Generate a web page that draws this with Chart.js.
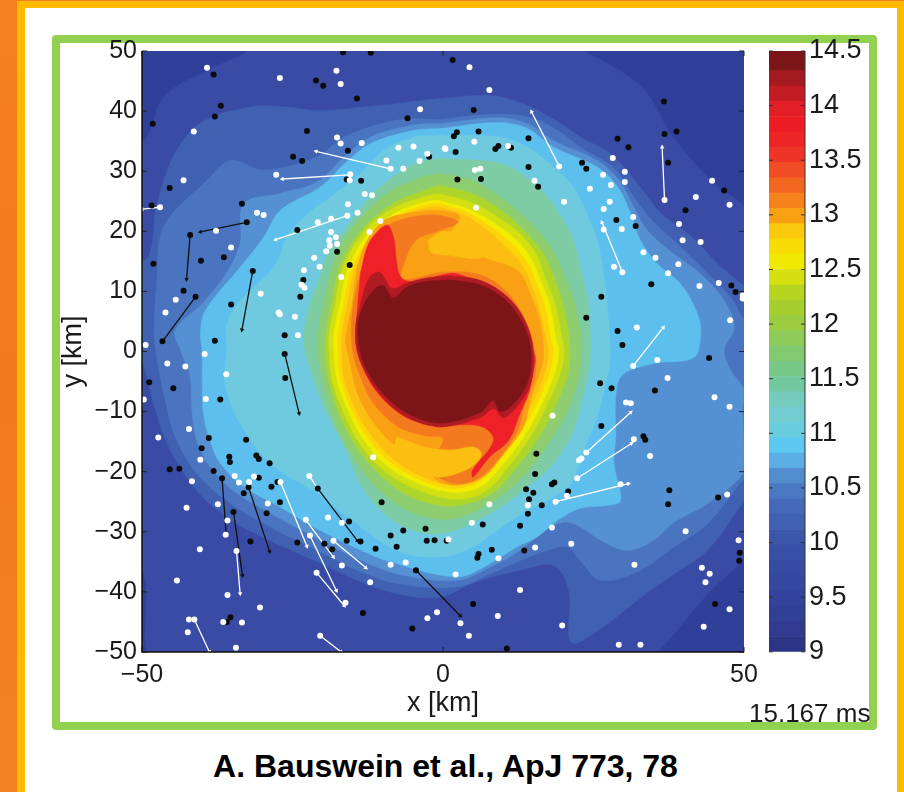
<!DOCTYPE html>
<html>
<head>
<meta charset="utf-8">
<title>Bauswein et al.</title>
<script src="https://cdn.jsdelivr.net/npm/chart.js@4"></script>
<style>
  html, body { margin: 0; padding: 0; }
  body { width: 904px; height: 792px; overflow: hidden; position: relative; background: linear-gradient(#f4801f 1px, #ffb900 1px); font-family: "Liberation Sans", Arial, sans-serif; }
  #stripe { position: absolute; left: 0; top: 0; width: 17px; height: 792px; background: linear-gradient(180deg, #f4801f, #f47a20 50%, #f08224); }
  #sheet { position: absolute; left: 25px; top: 8px; width: 872px; height: 784px; background: #fff; }
  #frame { position: absolute; left: 52px; top: 35px; width: 809px; height: 679px; border: 8px solid #92d050; border-radius: 4px; }
  #mapWrap { position: absolute; left: 57px; top: 33px; width: 705px; height: 687px; }
  #barWrap { position: absolute; left: 760px; top: 34px; width: 108px; height: 630px; }
  #stamp { position: absolute; left: 749px; top: 698px; font-size: 26px; color: #1a1a1a; white-space: nowrap; }
  #caption { position: absolute; left: 0; width: 891px; top: 748px; text-align: center; font-size: 32px; font-weight: bold; color: #000; }
</style>
</head>
<body>
<div id="stripe"></div>
<div id="sheet"></div>
<div id="frame"></div>
<div id="mapWrap"><canvas id="mapChart" width="705" height="687"></canvas></div>
<div id="barWrap"><canvas id="barChart" width="108" height="630"></canvas></div>
<div id="stamp">15.167 ms</div>
<div id="caption">A. Bauswein et al., ApJ 773, 78</div>

<script>
// axis ticks
const xTicks = [-50, 0, 50];
const yTicks = [-50, -40, -30, -20, -10, 0, 10, 20, 30, 40, 50];
const barTicks = [9, 9.5, 10, 10.5, 11, 11.5, 12, 12.5, 13, 13.5, 14, 14.5];

// contours, [x km, y km], outermost first
const levelColors = ['#394ba4', '#4060b2', '#4a74c0', '#5590d2', '#5cbfee', '#6fcae0', '#7dcca4', '#8fce70', '#aed52c', '#d2df10', '#f2ec00', '#fcd40a', '#fcbe10', '#f9a014', '#f47a20'];

const c_L1 = [[-52,33],[-49,36],[-46.4,42.4],[-39.2,46.8],[-33,49.6],[-30,52],[18,52],[23.4,50],[33,44],[38,36],[45,28],[50.2,24],[52,20],[52,-30],[50.2,-34.2],[44,-40.3],[38.4,-47],[35.6,-50.3],[35,-52],[-47,-52],[-49.5,-38],[-52,-28]];
const c_L2 = [[-0.5,42.1],[7.8,42.6],[13.4,41.2],[17.8,39],[22.8,35.7],[27.8,32.9],[32.3,27.9],[36.2,23],[41.2,19.2],[45.6,14.6],[50.2,10.7],[53,8],[53,-22],[50.2,-24.8],[44,-33],[38.4,-37],[32.8,-41],[27.3,-45.3],[22,-48.6],[20.9,-47.5],[20.9,-39.8],[18.4,-35.6],[12.8,-36.4],[5,-38.5],[-0.5,-40.9],[-7.6,-40.3],[-14.2,-38.1],[-20.9,-35],[-28.7,-31.5],[-35.3,-28],[-41,-23],[-45.5,-16],[-48,-9],[-50,-2],[-53,0],[-53,14],[-49,15.7],[-47.6,24],[-44.8,32.4],[-40.3,38],[-32,40.7],[-25.9,40.7],[-20.9,40.1],[-13.1,40.7]];
const c_L3 = [[-0.5,38.6],[9,39.5],[15,38.8],[19,36.8],[22.8,34],[28.4,30.5],[31.7,25.7],[35,21.5],[39.5,17.4],[43.9,13],[47.8,9],[50.2,5.2],[53,4],[53,-19],[50.2,-21],[44,-28.6],[38.4,-32.5],[32.8,-36.4],[26.2,-38.1],[22.8,-34.8],[20.6,-32.5],[17.3,-33.1],[12.8,-34.8],[7.8,-37],[2.3,-39.2],[-7.6,-38.6],[-14.2,-36.4],[-20.9,-33.1],[-28.7,-29.2],[-35.3,-25.3],[-40.9,-20.3],[-44.5,-14.2],[-45.9,-9.2],[-47.3,-2.5],[-48,3],[-47.5,12],[-46.4,20.8],[-39.2,28.5],[-35.3,31.8],[-29.8,30.2],[-20.9,32.4],[-16.4,35.7],[-7.6,38.5]];
const c_L3b = [[-0.5,37.9],[9,38.9],[14,37.9],[18.7,34.9],[25.6,31.8],[29.2,28.5],[31.7,24],[34,20.1],[38.4,16.2],[42.8,12.9],[46.7,8.5],[48.4,4],[46.7,0.25],[47.8,-3.1],[50,-6.4],[49.8,-9.8],[50,-16.4],[49.8,-20.3],[44,-25.3],[38.4,-28.4],[35,-31.4],[30.6,-33.1],[26.2,-31.4],[22.8,-29.2],[20,-28.4],[16.2,-30.3],[12.8,-33.1],[7.8,-35.9],[2.3,-38.1],[-7.6,-37],[-14.2,-34.5],[-20.9,-31.1],[-27.6,-27.5],[-34.2,-23.6],[-38.7,-19.2],[-40.9,-14.8],[-41.7,-9.8],[-42,-4.2],[-43.5,0],[-44.5,3.5],[-40,8],[-36,13],[-33.7,18],[-33.1,24.6],[-27,26.3],[-20.9,28.2],[-16.4,32.4],[-12,35.7],[-4.8,37.7]];
const c_L4 = [[-0.5,37.1],[9,38.1],[14,37.1],[18.4,34],[25.6,30.7],[29,27.4],[31.2,22.9],[32.8,18.5],[35.6,14.6],[39.5,11.2],[42.3,6.2],[42.8,2.9],[41.7,-1],[35,-2],[29.8,-3.9],[28.7,-7.5],[28.7,-14.2],[28.4,-18.6],[29.5,-24.8],[27.3,-25.6],[22.8,-26.1],[19,-28.1],[15.6,-30.9],[12.3,-32.5],[7.8,-35.3],[2.3,-37.5],[-8.7,-35],[-14.2,-32.8],[-20.9,-29.5],[-27,-25.9],[-33.1,-22.5],[-37,-18.6],[-38.7,-14.8],[-39.8,-10.3],[-40,-4.8],[-40,0.2],[-40.3,2.9],[-39.5,6.8],[-33.7,14],[-29.8,19],[-27,23.5],[-20.3,27.4],[-16.4,31.2],[-12,34.6],[-4.8,36.8]];
const c_L5 = [[-0.5,36],[9.5,35.7],[14,34],[17.8,31.2],[21.2,27.9],[23.4,24],[25.6,18.5],[26.7,12.9],[27.3,7.4],[27.8,-1],[27,-5.3],[25.6,-10.9],[23.4,-16.4],[21.2,-22],[18.4,-24.2],[15,-25.9],[10.6,-28.6],[5,-32.5],[-0.5,-34.2],[-7.6,-33.1],[-15.9,-27.5],[-20.9,-23.6],[-28.7,-18.6],[-33.7,-12],[-36.2,-5.3],[-35.9,0.2],[-35.9,4.6],[-33.7,8.5],[-28.1,14],[-25.9,19],[-23.1,22.4],[-18.7,25.7],[-13.7,29.6],[-9.8,33.5],[-4.8,35.7]];
const c_L6 = [[-0.5,32.1],[9.5,31.3],[14.5,28.5],[17.8,25.1],[21.2,19.6],[22.8,14],[24.2,7.4],[24.5,-1],[24,-4.2],[22.8,-9.2],[21.2,-14.2],[17.8,-19.2],[14,-22.5],[7.8,-27],[-0.5,-30.3],[-7.6,-28.6],[-13.1,-23.1],[-16.4,-15.9],[-19.8,-9.2],[-22,-3.1],[-23.1,1.8],[-22.3,7.4],[-20.3,12.9],[-19.2,16.3],[-16.4,20.1],[-13.1,24.6],[-9.8,27.9],[-4.8,31.2]];
const c_L7 = [[-0.5,29.6],[4.5,28.6],[9,26],[13,22.8],[17.5,18],[20,13],[22,7.4],[23,1.5],[22.6,-4],[20.8,-9.5],[18,-14.5],[14,-20],[9,-24.5],[3,-27.5],[-1.5,-27.8],[-7,-25.8],[-11.8,-21.8],[-15.5,-16.5],[-18,-11.5],[-20,-5],[-20.8,0.3],[-20.6,4],[-19.6,9],[-18.4,14],[-16.2,19],[-13,23],[-9,26.5],[-4,28.8]];
const c_L8 = [[-0.5,27.6],[4.4,26.4],[9,24],[13,20.6],[16.5,16.5],[18.5,12.2],[20,7.4],[21,1.8],[20.8,-3.4],[18.4,-9.6],[15.6,-14.8],[12,-19.5],[8,-23.7],[2,-25.7],[-2,-25.3],[-6.3,-23.7],[-11,-20],[-14.4,-15.8],[-16.8,-11.5],[-18.9,-5],[-19.6,0.25],[-19.4,3],[-18.4,8.5],[-17.3,13.5],[-15,18.2],[-12,21.8],[-8,24.8],[-2.5,27]];
const c_L9 = [[-0.5,26.2],[4.2,25],[8.4,22.8],[12.3,20],[15.3,16.5],[17,12.2],[18.7,7.6],[19.8,2],[20.1,0.2],[19.6,-3.3],[17,-9.5],[14.2,-14.7],[11,-19],[6.8,-23.4],[1.2,-24.5],[-5.6,-22.4],[-10.3,-19.4],[-13.8,-15.4],[-16,-11.3],[-18.4,-5],[-18.9,0.25],[-18.9,3],[-17.8,8.5],[-16.7,13.7],[-14.4,18.2],[-11.4,21.7],[-7.3,24.3],[-2.2,26]];
const c_L10 = [[-0.5,25.1],[4,23.8],[7.8,21.8],[11.7,19],[14.5,15.7],[16.2,11.8],[17.8,7.4],[18.8,1.8],[19.2,0.25],[18.7,-3.1],[16.2,-9.2],[13.4,-14.2],[10.1,-18.6],[6.2,-22.5],[1.2,-23.4],[-5.3,-21.4],[-9.8,-18.6],[-13.1,-14.8],[-15.3,-10.9],[-17.6,-4.8],[-18.1,0.25],[-18.1,3],[-17,8.5],[-15.9,13.5],[-13.7,17.9],[-10.9,21],[-7,23.5],[-2,25.1]];
const c_L11 = [[-0.5,24.6],[3.7,23.3],[7.3,21.2],[11,18.3],[13.8,15.1],[15.5,11.4],[17,7.2],[18,1.8],[18.3,0.25],[17.8,-3.2],[15.4,-9],[12.7,-13.7],[9.5,-18],[5.8,-21.8],[1.2,-22.8],[-5,-20.8],[-9.3,-18],[-12.5,-14.3],[-14.7,-10.6],[-17,-4.8],[-17.4,0.25],[-17.4,2.8],[-16.4,8.3],[-15.3,13.3],[-13.2,17.5],[-10.5,20.5],[-6.7,23],[-2,24.6]];
const c_L12 = [[-0.5,24],[3.3,22.8],[6.8,20.6],[10.2,17.6],[13,14.6],[14.7,11],[16,7],[17.2,1.8],[17.5,0.25],[17,-3.3],[14.7,-8.8],[12,-13.3],[9,-17.4],[5.4,-21.2],[1.2,-22.2],[-4.7,-20.2],[-8.8,-17.4],[-12,-13.8],[-14.2,-10.2],[-16.4,-4.8],[-16.8,0.25],[-16.8,2.6],[-15.8,8.2],[-14.8,13.2],[-12.8,17.2],[-10.1,20.2],[-6.5,22.7],[-2,24]];
const c_L13 = [[-2,23.5],[1.3,23.2],[2.8,22.4],[1.2,19],[6.7,15.7],[12.3,13.5],[14.5,9.6],[16.2,4.6],[16.7,-1],[16.2,-3.1],[14.5,-8],[13.4,-12.5],[10.1,-17],[6.7,-20.9],[2.8,-22.2],[-0.5,-21.7],[-2,-20.3],[-4.2,-17],[-7.6,-15.9],[-11.4,-12],[-14.2,-7],[-15.3,-2.5],[-15.9,0.25],[-16.2,1.9],[-15,8.5],[-14.2,14],[-12.6,18.5],[-9.8,21.8],[-5.9,23]];
const c_L14 = [[-10.5,20.5],[-6,22.2],[-1,22.7],[2.5,21.5],[-1,20],[-4.5,18.5],[-6.5,14.5],[-6.8,12],[0,13.2],[6,12.8],[10.5,10],[13.5,5.5],[15.3,0],[15.2,-4.5],[13.5,-9],[12.5,-13],[9.5,-17.5],[6,-21],[2.5,-22],[-0.5,-21],[-2,-19],[0,-14.5],[-3,-14],[-7.5,-12.5],[-11.5,-8.7],[-13.8,-4],[-15,0],[-15.2,5],[-14.5,10],[-13.5,14],[-12,18]];
const c_goldTop = [[-2.5,18.5],[0,20],[2.5,19.5],[5,17.5],[8,17],[6,15.5],[1,16],[-2,16.5]];
const c_goldLow = [[-7.6,-14.2],[-3.1,-15.9],[1.3,-16.4],[5,-15.9],[6.4,-17],[5,-19],[2.3,-20.3],[-0.5,-20.9],[-2.6,-20.3],[-4.8,-18.6],[-8.1,-16.4]];
const c_L15 = [[-13.7,13],[-12.6,17.4],[-11.2,19.6],[-9.2,21],[-8.1,18.5],[-7.8,15.7],[-7,12.4],[-4.8,11.6],[1.3,13],[3.9,12.4],[7.8,10.7],[11.7,7.4],[13.7,3],[15.3,-1],[15,-3.1],[14.2,-7],[12.8,-10.3],[10.9,-14.8],[7.8,-17.5],[5,-20.9],[4.9,-19.8],[8.4,-14.8],[6.7,-12.6],[2.8,-12.2],[-0.5,-12.6],[-2,-12.2],[-5.9,-11.1],[-9.8,-8.1],[-12.6,-4.2],[-14.2,0.25],[-14.5,1.8],[-14.2,7.4]];
const c_L16 = [[1.2,12.6],[6.3,11.8],[10.7,9.1],[13.6,5.2],[15,0.2],[14.5,-5.5],[12,-9.5],[10,-11],[8.4,-9.5],[6.2,-11],[-0.5,-12.5],[-6.2,-10.8],[-10.3,-7.3],[-13,-3.3],[-14.3,0.2],[-14.5,4.4],[-13.8,7.4],[-12.3,12.2],[-10.5,13.2],[-8.5,10.5],[-6,11.4],[-3,12.2]];
const c_core = [[1.2,11.9],[6.1,11.1],[10.3,8.6],[13.1,4.9],[14.6,0.2],[14,-5.2],[11.5,-8.9],[9.5,-10],[8.3,-8.1],[6.1,-10.2],[-0.5,-11.9],[-6,-10.2],[-10,-6.9],[-12.6,-3.1],[-13.8,0.2],[-14.1,4.4],[-13.3,7.4],[-11.8,9.9],[-10,11],[-8.3,8.9],[-6,10.7],[-3,11.6]];

// particles
const whitePts = [[-39.2,47.2],[-27.1,45.5],[-17.7,46.7],[-17,44.5],[-3.8,40.3],[-41.4,36.6],[-17.6,35.6],[-17,34.6],[-13.5,34.7],[-7.4,33.9],[-4.9,34.1],[0.4,33.7],[-2.6,32.9],[-9.4,31.8],[-3.9,31.7],[-8.7,30.4],[-6.6,30.4],[-43.1,28.5],[-27.7,29.4],[-15.4,29.5],[-15.5,28.5],[-13,26.2],[-11.8,26],[-47,24],[-15.8,24.5],[-14.2,23.1],[-15.9,22.6],[-30.9,23.1],[-29.8,22.7],[-18.6,22.1],[-20.8,21.5],[-10.4,21.7],[-37.7,20.1],[-18.6,19.9],[-12.2,19.9],[-17.8,19],[-18.9,18.5],[-17.6,17.9],[-18.8,17.6],[-19.4,16.7],[-35.2,17.3],[-21.4,15.6],[-20.5,14.1],[-23.1,13.5],[-16.9,12.4],[-23.5,11.1],[-23,10.6],[-44.4,8.6],[-30.3,9.6],[-46.1,6.5],[-27.3,6.5],[-27.1,6.2],[-24.6,5.8],[-24.1,2.7],[-49.4,1.1],[-39.6,-0.4],
  [4.4,47.3],[7.7,43.5],[5.2,34.9],[0.3,33.8],[10.8,34.2],[19.3,30.8],[5.3,30.2],[6.2,30.4],[28.2,32.2],[30.2,29.9],[26.6,29.4],[30.2,28.2],[27.9,27.7],[15.2,28.4],[24.4,27.1],[27.7,24.9],[20.1,24.9],[5.5,23.9],[26.7,23.7],[36.8,25.2],[44.7,28.4],[42,25.7],[47.6,24.4],[31.6,22.4],[39.2,21.2],[26.7,20.3],[29.7,20.4],[39.8,18.5],[42.8,18.2],[33.3,16.5],[35.3,15.6],[39.1,14.5],[28.4,14.1],[29.8,13.2],[37.4,13],[42.6,10.9],[45.8,11.4],[49.8,9.3],[49.8,8.8],[47.7,5.2],[32.2,4],[35.6,-1.4],
  [-45.8,-2],[-42.8,-2.5],[-36,-3.8],[-49.7,-8],[-39.4,-7.9],[-42.2,-12.9],[-47.3,-14.3],[-40.3,-18],[-34.6,-20.7],[-31.4,-20.8],[-41.7,-21.6],[-33.9,-21.8],[-32.2,-21.7],[-27,-21.7],[-22.2,-20.7],[-11.6,-17.6],[-37.4,-25.4],[-29.1,-25.3],[-42.6,-26],[-35.8,-28.1],[-19.1,-27.6],[-22.8,-28],[-16.8,-28.5],[-36.1,-30.5],[-22.1,-30.6],[-18.2,-31.5],[0.9,-31.3],[-40.4,-32.9],[-34.3,-33.2],[-16.8,-35.6],[-8.7,-35.5],[-6.2,-35.1],[-44.2,-38.1],[-12.1,-38.4],[-21,-36.8],[-35.8,-40.5],[-30.4,-42.6],[-16.2,-41.8],[-1,-43.4],[-2.6,-44.4],[-42.2,-44.6],[-41.3,-44.6],[-36.5,-45],[-33.4,-45.1],[-42.4,-46.7],[-20.4,-47.3],[-34.4,-49.3],
  [31.6,-2.4],[37.3,-4.4],[45.1,-7.6],[47.6,-9.2],[30.4,-8.5],[31.2,-8.6],[18.2,-10.7],[31.7,-14.6],[34.4,-17.4],[23.8,-16.8],[23,-17.8],[22.6,-18.1],[22.3,-21.1],[29.5,-22.1],[18.7,-25],[20.6,-24],[7.7,-25.4],[14.1,-25.6],[47.2,-23.8],[4.8,-28.5],[18.1,-29.3],[40.3,-29.9],[21.3,-32],[15.3,-32.6],[49.1,-31.4],[9.2,-34.4],[31.8,-35.5],[2.1,-37.1],[43,-36],[44.3,-37],[43.6,-38.4],[12.8,-39.7],[47.6,-42.9],[9.1,-44],[2.9,-45.2],[19.8,-45.6],[43.3,-45.8],[4.3,-47.3],[29.2,-48.8],[32.8,-48.8]];
const blackPts = [[-16.6,49.8],[-12,49.7],[-38.1,46.1],[-21.1,45.1],[-19.9,44.2],[-14.3,42.1],[-36.9,40.9],[-37.9,39.1],[-5.9,38.8],[-48.2,37.9],[-22.6,36.7],[-15.8,33.4],[-24.9,32.4],[-23.4,31.7],[-2.3,32.4],[-16,28.6],[-13.6,28.4],[-45.4,27.2],[-48.4,24.3],[-33.4,24.6],[-32.6,21.5],[-42,19.4],[-24.2,20.2],[-17.6,16.6],[-40.2,15.1],[-36.4,15.7],[-48.1,14.6],[-15.5,14.4],[-31.6,13.4],[-23.2,11.9],[-23.7,9.1],[-43.1,10.1],[-41.1,9.1],[-35.2,7.8],[-46.6,1.7],[-37.9,1.8],[-26.3,2.7],[-26.3,-0.4],
  [1.6,48.5],[5.1,40.2],[36.7,41.6],[36.8,36.2],[38.8,36.6],[2.3,36.5],[1.8,35.8],[5.9,36.6],[14.2,35.5],[29,35.4],[30.8,34],[9.2,34.2],[8.7,33.7],[11.3,33.9],[2.1,33.2],[23.1,31.4],[37.4,31.4],[23.8,30.4],[14.2,30.7],[6.3,28.7],[2.4,28.6],[15.8,27.4],[46.7,26.8],[40.3,23.5],[28.8,21.9],[32,20.9],[47.9,11],[48.6,9.9],[34.6,11.2],[26.3,9.1],[23.8,5.6],[29,3.4],[29.8,1.1],[44.2,-1.1],
  [-48.8,-5.1],[-44.8,-6.1],[-26.2,-4.4],[-37,-8],[-38.9,-14.4],[-32.7,-14.7],[-40.1,-16.1],[-35.5,-17.5],[-35.4,-18.4],[-31,-17.3],[-30.6,-17.9],[-28.8,-18.6],[-45.4,-19.6],[-43.8,-19.5],[-38.1,-19.9],[-36.7,-21.1],[-30.6,-21],[-27.5,-21.7],[-32.3,-22.6],[-28.5,-22.5],[-20.8,-22.8],[-33.1,-23.6],[-27.1,-25.1],[-10.2,-25.1],[-34.8,-26.7],[-29.3,-26.9],[-15.6,-28.3],[-2.9,-29.5],[-6.6,-29.8],[-8.7,-30.6],[-32,-31.6],[-24.2,-31.8],[-19.7,-32],[-18.4,-32.9],[-16,-31.5],[-13.7,-31.6],[-11.2,-32.8],[-7.7,-32.5],[-2.7,-31.5],[-1.4,-31.4],[0.6,-31.5],[-4.5,-36.4],[-13.3,-43.5],[-35.3,-44.2],[-35.9,-45],[-5.1,-46.1],
  [26.1,-5.3],[28,-6.1],[35.2,-6.5],[26.3,-12.4],[33.3,-14.1],[33.6,-14.7],[15.5,-17],[15.3,-20.4],[18.5,-21.8],[18.1,-22.1],[37.6,-23.1],[13.8,-22.9],[15,-23.5],[20.8,-23.3],[14.3,-24.6],[16.4,-25.6],[37.4,-25.4],[45.7,-24.3],[14.1,-27],[6.6,-28.8],[12.8,-29],[8.1,-33],[13.5,-33.1],[5.9,-33.7],[5.7,-34.3],[49.3,-33.5],[49.2,-34.8],[5,-42],[45.2,-42],[10.6,-49.4]];

// velocity arrows, [x0, y0, x1, y1]
const whiteArrows = [[-8.7,30.4,-21.1,33.3],[-15.6,29.4,-26.7,28.7],[-15.9,22.6,-27.8,18.6],[-47,24,-50,23.7],[19.3,30.8,14.7,39.9],[36.8,25.2,36.4,34],[29.8,13.2,26.4,21.5],[31.6,-2.4,36.6,4],[-34.3,-33.2,-33.7,-40.3],[-27,-21.7,-22.6,-32.4],[-22.2,-20.7,-20.8,-22.8],[-22.8,-28,-18.2,-34.2],[-22.1,-30.6,-17.7,-39.8],[-18.2,-31.5,-12.8,-36],[-21,-36.8,-16.4,-42.3],[-41.3,-44.6,-38.8,-50],[-20.4,-47.3,-16.9,-50],[22.3,-21.1,31.3,-15.3],[23.8,-16.8,31.2,-10.1],[18.7,-25,30.8,-22]];
const blackArrows = [[-32.6,21.5,-40.3,19.9],[-42,19.4,-42.6,12],[-31.6,13.4,-33.4,3.6],[-41.1,9.1,-46.6,1.7],[-26.3,-0.3,-23.9,-10.3],[-36.7,-21.1,-36,-30.6],[-34.8,-26.7,-33.3,-37.3],[-32.3,-22.6,-28.8,-33.3],[-20.8,-22.8,-14.2,-31.5],[-4.5,-36.4,2.9,-44]];

// colorbar bands
const barEdges = [9,9.14,9.28,9.42,9.56,9.7,9.84,9.98,10.12,10.26,10.4,10.54,10.68,10.82,10.96,11.1,11.24,11.38,11.52,11.66,11.8,11.94,12.08,12.22,12.36,12.5,12.64,12.78,12.92,13.06,13.2,13.34,13.48,13.62,13.76,13.9,14.04,14.18,14.32,14.5];
const barColors = ['#2c3585','#303a90','#323f96','#33439b','#35479f','#374ba3','#394fa6','#3c56aa','#4060b2','#4469b8','#4a78c2','#518cce','#5aaee4','#5cc8f2','#6accdf','#72ccd0','#74ccbc','#72c8a0','#78c888','#82ca70','#8fcb58','#9ccc40','#a6ce2c','#b6d420','#d6e010','#f0ea02','#f8dc04','#fbc90c','#f99f12','#f5821a','#f2661f','#f04d24','#ee3426','#ed2526','#ed1c24','#e21e26','#c41c24','#a31a20','#7b1518'];

function shape(pts, color) {
  return {
    data: pts.map(p => ({ x: p[0], y: p[1] })).concat([{ x: pts[0][0], y: pts[0][1] }]),
    showLine: true, fill: 'shape', backgroundColor: color, borderColor: color, borderWidth: 0.5,
    tension: 0.35, pointRadius: 0, pointHoverRadius: 0
  };
}

function dots(pts, color) {
  return { data: pts.map(p => ({ x: p[0], y: p[1] })), showLine: false, pointRadius: 3, pointBorderWidth: 0, pointBackgroundColor: color, backgroundColor: color };
}

function arrow(a, color) {
  // heading from the data, the map is square in km so degrees carry over
  const deg = Math.atan2(a[2] - a[0], a[3] - a[1]) * 180 / Math.PI;
  return {
    data: [{ x: a[0], y: a[1] }, { x: a[2], y: a[3] }],
    showLine: true, borderColor: color, borderWidth: 1.3, backgroundColor: color, fill: false,
    pointStyle: 'triangle', pointRadius: [0, 2.6], pointRotation: deg, pointBorderWidth: 0, pointBackgroundColor: color
  };
}

// chart.js paints the first dataset last, so dots and arrows go first
const contours = [
  shape(c_core, '#7b1518'), shape(c_L16, '#b01a22'), shape(c_L15, '#ee2128'),
  shape(c_goldTop, levelColors[12]), shape(c_goldLow, levelColors[12]),
  shape(c_L14, levelColors[14]), shape(c_L13, levelColors[13]), shape(c_L12, levelColors[12]),
  shape(c_L11, levelColors[11]), shape(c_L10, levelColors[10]), shape(c_L9, levelColors[9]),
  shape(c_L8, levelColors[8]), shape(c_L7, levelColors[7]), shape(c_L6, levelColors[6]),
  shape(c_L5, levelColors[5]), shape(c_L4, levelColors[4]), shape(c_L3b, levelColors[3]),
  shape(c_L3, levelColors[2]), shape(c_L2, levelColors[1]), shape(c_L1, levelColors[0])
];

const tickFont = { family: "'Liberation Sans', Arial, sans-serif", size: 25 };
const barFont = { family: "'Liberation Sans', Arial, sans-serif", size: 27 };
const titleFont = { family: "'Liberation Sans', Arial, sans-serif", size: 27 };

// short ticks pointing inward on all four sides
const innerTicks = {
  id: 'innerTicks',
  afterDatasetsDraw(chart) {
    const { ctx, chartArea: a, scales } = chart;
    ctx.save();
    ctx.strokeStyle = '#222';
    ctx.lineWidth = 1;
    ctx.beginPath();
    yTicks.forEach(v => {
      const py = scales.y.getPixelForValue(v);
      ctx.moveTo(a.left, py); ctx.lineTo(a.left + 5, py);
      ctx.moveTo(a.right, py); ctx.lineTo(a.right - 5, py);
    });
    xTicks.forEach(v => {
      const px = scales.x.getPixelForValue(v);
      ctx.moveTo(px, a.top); ctx.lineTo(px, a.top + 5);
      ctx.moveTo(px, a.bottom); ctx.lineTo(px, a.bottom - 5);
    });
    ctx.stroke();
    ctx.strokeStyle = '#111';
    ctx.lineWidth = 1.5;
    ctx.beginPath();
    ctx.moveTo(a.left, a.top); ctx.lineTo(a.left, a.bottom); ctx.lineTo(a.right, a.bottom);
    ctx.stroke();
    ctx.restore();
  }
};

const mapCanvasBg = {
  id: 'mapBg',
  beforeDatasetsDraw(chart) {
    const { ctx, chartArea: a } = chart;
    ctx.fillStyle = '#303f97';
    ctx.fillRect(a.left, a.top, a.right - a.left, a.bottom - a.top);
  }
};

new Chart(document.getElementById('mapChart'), {
  type: 'scatter',
  data: {
    datasets: [dots(whitePts, '#fff'), dots(blackPts, '#0b0b0b')]
      .concat(blackArrows.map(a => arrow(a, '#111')))
      .concat(whiteArrows.map(a => arrow(a, '#fff')))
      .concat(contours)
  },
  options: {
    responsive: false,
    animation: false,
    layout: { padding: { left: 0, right: 18, top: 18, bottom: 0 } },
    plugins: { legend: { display: false }, tooltip: { enabled: false } },
    scales: {
      x: {
        type: 'linear', min: -50, max: 50,
        afterBuildTicks: s => { s.ticks = xTicks.map(v => ({ value: v })); },
        afterFit: s => { s.height = 68; },
        grid: { display: false },
        border: { display: false },
        ticks: { color: '#1a1a1a', font: tickFont, padding: 0, maxRotation: 0, callback: v => String(v).replace('-', '\u2212') },
        title: { display: true, text: 'x [km]', color: '#1a1a1a', font: titleFont, padding: 0 }
      },
      y: {
        type: 'linear', min: -50, max: 50,
        afterBuildTicks: s => { s.ticks = yTicks.map(v => ({ value: v })); },
        afterFit: s => { s.width = 85; },
        grid: { display: false },
        border: { display: false },
        ticks: { color: '#1a1a1a', font: tickFont, padding: -3, callback: v => String(v).replace('-', '\u2212') },
        title: { display: true, text: 'y [km]', color: '#1a1a1a', font: titleFont, padding: 0 }
      }
    }
  },
  plugins: [mapCanvasBg, innerTicks]
});

// colorbar, one floating bar per band
const barSets = barColors.map((color, i) => ({
  data: [[barEdges[i], barEdges[i + 1]]],
  backgroundColor: color, borderWidth: 0, barPercentage: 1, categoryPercentage: 1, grouped: false
}));

const barTickMarks = {
  id: 'barTickMarks',
  afterDatasetsDraw(chart) {
    const { ctx, chartArea: a, scales } = chart;
    ctx.save();
    ctx.strokeStyle = '#333';
    ctx.lineWidth = 1;
    ctx.beginPath();
    barTicks.forEach(v => {
      const py = scales.y.getPixelForValue(v);
      ctx.moveTo(a.left, py); ctx.lineTo(a.left + 4, py);
      ctx.moveTo(a.right, py); ctx.lineTo(a.right - 4, py);
    });
    ctx.moveTo(a.right, a.top); ctx.lineTo(a.right, a.bottom);
    ctx.stroke();
    ctx.restore();
  }
};

new Chart(document.getElementById('barChart'), {
  type: 'bar',
  data: { labels: [''], datasets: barSets },
  options: {
    responsive: false,
    animation: false,
    layout: { padding: { left: 9, right: 0, top: 17, bottom: 0 } },
    plugins: { legend: { display: false }, tooltip: { enabled: false } },
    scales: {
      x: { display: false, stacked: false },
      y: {
        position: 'right', min: 9, max: 14.5,
        afterBuildTicks: s => { s.ticks = barTicks.map(v => ({ value: v })); },
        afterFit: s => { s.width = 63; },
        grid: { display: false },
        border: { display: false },
        ticks: { color: '#1a1a1a', font: barFont, padding: -4, autoSkip: false, callback: v => String(v) }
      }
    }
  },
  plugins: [barTickMarks]
});
</script>
</body>
</html>
